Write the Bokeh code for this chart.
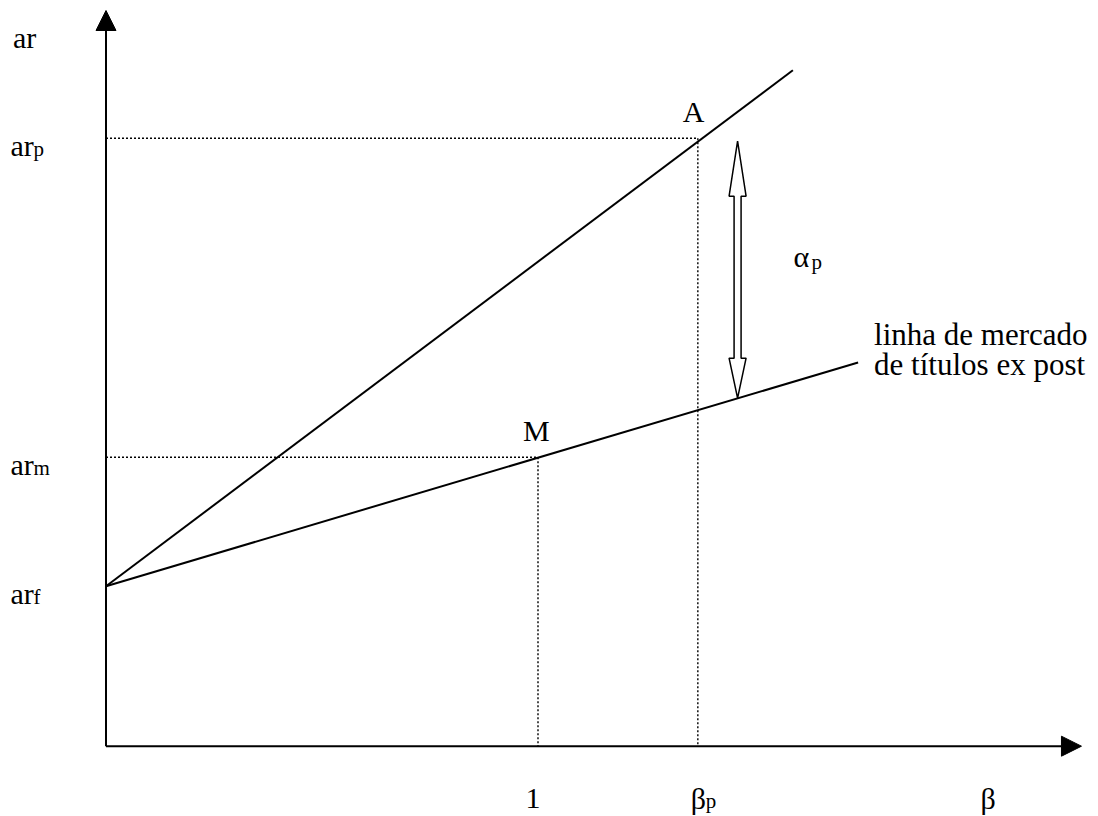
from bokeh.plotting import figure
from bokeh.models import Range1d, Arrow, NormalHead
from bokeh.embed import file_html
from bokeh.resources import INLINE
from bokeh.core.properties import value

# ---------------- data (diagram values) ----------------
ar_f = 1.60
ar_m = 2.89
ar_p = 6.08
beta_m = 1.0
beta_p = 1.37
beta_axis_max = 2.258
ar_axis_max = 7.357
sml_beta = [0.0, 1.741]          # security market line ex post
sml_ar = [1.60, 3.837]
port_beta = [0.0, 1.59]          # line through portfolio A
port_ar = [1.60, 6.76]
alpha_beta = 1.462
alpha_ar = [3.48, 6.05]          # bottom, top of alpha arrow
y_tick_values = [ar_p, ar_m, ar_f]
y_tick_main = ["ar", "ar", "ar"]
y_tick_subs = ["p", "m", "f"]
x_tick_values = [beta_m, beta_p]
x_tick_main = ["1", "β"]
x_tick_subs = ["", "p"]
sml_label = ["linha de mercado", "de títulos ex post"]

# ---------------- figure ----------------
W, H = 1098, 816
XS, YS = 432.0, 100.0            # px per data unit
x0 = -105.5 / XS
y0 = -(H - 745.7) / YS
p = figure(width=W, height=H, output_backend="svg", toolbar_location=None,
           x_range=Range1d(x0, x0 + W / XS), y_range=Range1d(y0, y0 + H / YS),
           min_border=0, tools="")
p.axis.visible = False
p.grid.visible = False
p.outline_line_color = None
p.background_fill_color = "white"
p.border_fill_color = "white"

FONT = value("Liberation Serif")
MAIN = "30px"
SUB = "21px"
DY = -11   # baseline correction for text placement

# dotted guide lines
dot = dict(line_color="black", line_width=1.4, line_dash="2 2")
p.line([0, beta_p], [ar_p, ar_p], **dot)
p.line([beta_p, beta_p], [ar_p, 0], **dot)
p.line([0, beta_m], [ar_m, ar_m], **dot)
p.line([beta_m, beta_m], [ar_m, 0], **dot)

# lines
p.line(port_beta, port_ar, line_color="black", line_width=2)
p.line(sml_beta, sml_ar, line_color="black", line_width=2)

# axes with arrow heads
for (xe, ye) in [(0, ar_axis_max), (beta_axis_max, 0)]:
    p.add_layout(Arrow(end=NormalHead(size=20, fill_color="black", line_color="black", line_width=1),
                       x_start=0, y_start=0, x_end=xe, y_end=ye,
                       line_color="black", line_width=2))

# alpha double arrow (outlined)
c = alpha_beta
bot, top = alpha_ar
hs, hh = 3.5 / XS, 8.5 / XS
Lt, Lb = 55 / YS, 40 / YS
ax = [c, c + hh, c + hs, c + hs, c + hh, c, c - hh, c - hs, c - hs, c - hh]
ay = [top, top - Lt, top - Lt, bot + Lb, bot + Lb, bot, bot + Lb, bot + Lb, top - Lt, top - Lt]
p.patch(ax, ay, fill_color="white", line_color="black", line_width=1.5)

txt = dict(text_font=FONT, text_color="black", text_baseline="alphabetic", text_align="left")

# y labels
p.text(x=[0], y=[ar_axis_max], text=["ar"], x_offset=-93, y_offset=38 + DY, text_font_size=MAIN, **txt)
p.text(x=[0] * 3, y=y_tick_values, text=y_tick_main, x_offset=-95.5, y_offset=18 + DY,
       text_font_size=MAIN, **txt)
p.text(x=[0] * 3, y=y_tick_values, text=y_tick_subs, x_offset=-72.5, y_offset=22 + DY,
       text_font_size=SUB, **txt)

# point labels
p.text(x=[beta_m, beta_p], y=[ar_m, ar_p], text=["M", "A"], x_offset=-15, y_offset=-16 + DY,
       text_font_size=MAIN, **txt)

# alpha label
amid = (alpha_ar[0] + alpha_ar[1]) / 2
p.text(x=[alpha_beta], y=[amid], text=["α"], x_offset=56, y_offset=-2 + DY, text_font_size=MAIN, **txt)
p.text(x=[alpha_beta], y=[amid], text=["p"], x_offset=74, y_offset=3 + DY, text_font_size=SUB, **txt)

# SML label
p.text(x=[sml_beta[1]] * 2, y=[sml_ar[1]] * 2, text=sml_label, x_offset=16,
       y_offset=[-17 + DY, 13 + DY], text_font_size="31px", **txt)

# x labels
p.text(x=x_tick_values, y=[0, 0], text=x_tick_main, x_offset=[-12.5, -7], y_offset=63 + DY,
       text_font_size=MAIN, **txt)
p.text(x=x_tick_values, y=[0, 0], text=x_tick_subs, x_offset=8, y_offset=66 + DY,
       text_font_size=SUB, **txt)
p.text(x=[beta_axis_max], y=[0], text=["β"], x_offset=-101, y_offset=63 + DY, text_font_size=MAIN, **txt)

open("out.html", "w").write(file_html(p, INLINE))
